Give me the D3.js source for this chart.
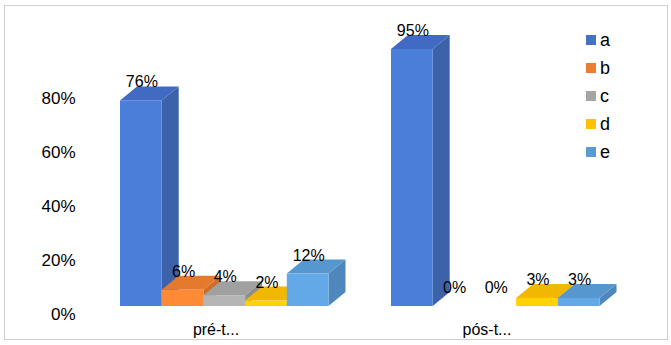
<!DOCTYPE html>
<html><head><meta charset="utf-8">
<script src="https://cdn.jsdelivr.net/npm/d3@7"></script>
<style>body{margin:0;background:#fff}svg{display:block;font-family:"Liberation Sans",Arial,sans-serif}</style>
</head><body>
<svg id="c" width="671" height="345"></svg>
<script>
const categories = ["pré-t...", "pós-t..."];
const seriesNames = ["a", "b", "c", "d", "e"];
const valuesA = [76, 95];
const valuesB = [6, 0];
const valuesC = [4, 0];
const valuesD = [2, 3];
const valuesE = [12, 3];
const yTicks = [0, 20, 40, 60, 80];

const seriesValues = [valuesA, valuesB, valuesC, valuesD, valuesE];
const legendColors = ["#4472c4", "#ed7d31", "#a5a5a5", "#ffc000", "#5b9bd5"];
const frontColors = ["#4a7ed8", "#ff8a35", "#b5b5b5", "#ffd200", "#63a9e8"];
const topColors = ["#416ac2", "#e57a2f", "#a0a0a0", "#f2b700", "#5697d0"];
const sideColors = ["#3c62aa", "#cf6c26", "#8e8e8e", "#d9a400", "#4f87bd"];

const svg = d3.select("#c");
svg.append("rect").attr("x", 4.5).attr("y", 5.5).attr("width", 663).attr("height", 334)
  .attr("fill", "#fff").attr("stroke", "#d0d0d0");

const y = d3.scaleLinear().domain([0, 100]).range([306, 35.5]);
const x0 = d3.scaleBand().domain(categories).range([89, 631]);
const x1 = d3.scaleBand().domain(seriesNames).range([31, 239.5]);
const dx = 17, dy = -14;

const g = svg.append("g");
categories.forEach((cat, ci) => {
  seriesNames.forEach((s, si) => {
    const v = seriesValues[si][ci];
    if (v <= 0) return;
    const xl = x0(cat) + x1(s), xr = xl + x1.bandwidth();
    const yt = y(v), yb = y(0);
    g.append("path").attr("d", `M${xr},${yb}L${xr + dx},${yb + dy}L${xr + dx},${yt + dy}L${xr},${yt}Z`)
      .attr("fill", sideColors[si]);
    g.append("path").attr("d", `M${xl},${yt}L${xl + dx},${yt + dy}L${xr + dx},${yt + dy}L${xr},${yt}Z`)
      .attr("fill", topColors[si]);
    g.append("rect").attr("x", xl).attr("y", yt).attr("width", xr - xl).attr("height", yb - yt)
      .attr("fill", frontColors[si]);
  });
});

categories.forEach((cat, ci) => {
  seriesNames.forEach((s, si) => {
    const v = seriesValues[si][ci];
    const cx = x0(cat) + x1(s) + x1.bandwidth() / 2 + 1;
    svg.append("text").attr("x", cx).attr("y", y(v) + dy + 1)
      .attr("text-anchor", "middle").attr("font-size", 16).attr("fill", "#000")
      .text(v + "%");
  });
});

yTicks.forEach(t => {
  svg.append("text").attr("x", 75.5).attr("y", y(t) + 8).attr("dy", "0.35em")
    .attr("text-anchor", "end").attr("font-size", 17).attr("fill", "#000").text(t + "%");
});

categories.forEach(cat => {
  svg.append("text").attr("x", x0(cat) + x0.bandwidth() / 2 - 8.5).attr("y", 329).attr("dy", "0.35em")
    .attr("text-anchor", "middle").attr("font-size", 16).attr("fill", "#000").text(cat);
});

const leg = svg.append("g");
seriesNames.forEach((s, i) => {
  leg.append("rect").attr("x", 586).attr("y", 35 + i * 28).attr("width", 10).attr("height", 10)
    .attr("fill", legendColors[i]);
  leg.append("text").attr("x", 600).attr("y", 40 + i * 28).attr("dy", "0.35em")
    .attr("font-size", 18).attr("fill", "#000").text(s);
});
</script>
</body></html>
